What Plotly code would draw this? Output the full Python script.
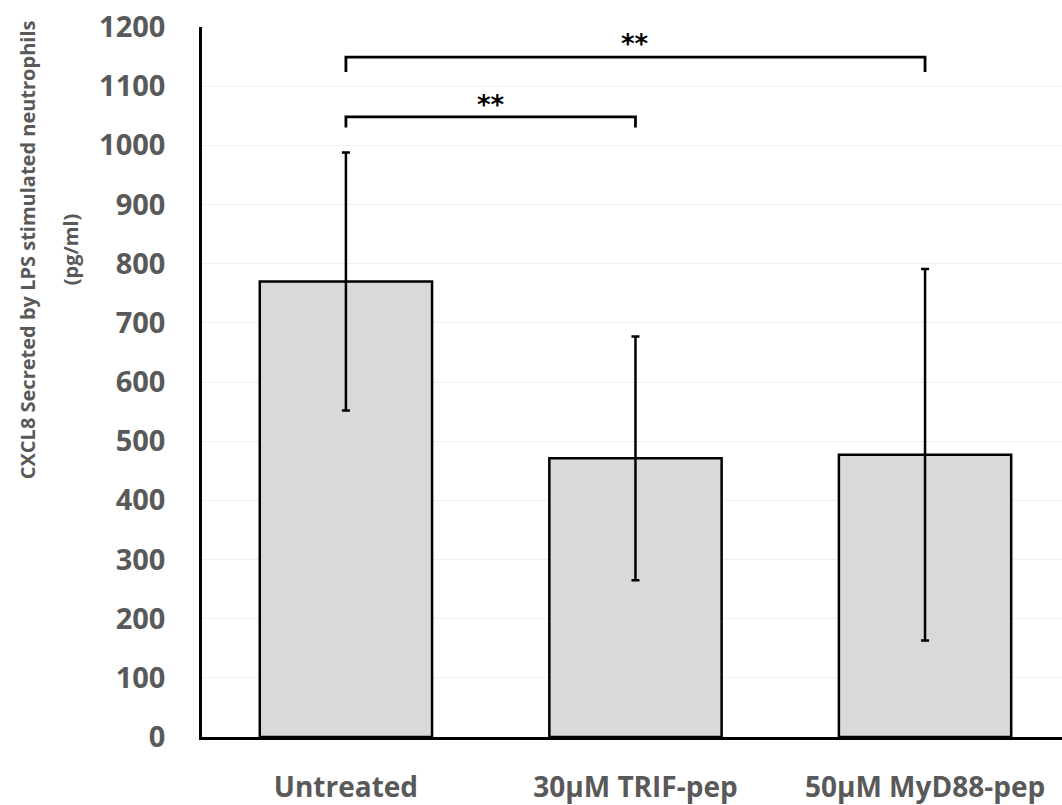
import plotly.graph_objects as go

categories = ["Untreated", "30µM TRIF-pep", "50µM MyD88-pep"]
means = [770, 471, 477]
errors = [218, 206, 314]
y_ticks = [0, 100, 200, 300, 400, 500, 600, 700, 800, 900, 1000, 1100, 1200]

# significance brackets: (start idx, end idx, bar height, tick bottom, label y)
brackets = [(0, 2, 1149, 1124, 1172), (0, 1, 1048, 1030, 1068)]

GRAY = "#595959"
FONT = "Open Sans"

xs = list(range(len(categories)))
fig = go.Figure()
fig.add_trace(go.Bar(
    x=xs, y=means, width=0.595,
    marker=dict(color="#D9D9D9", line=dict(color="black", width=2.5)),
    error_y=dict(type="data", array=errors, visible=True, color="black", thickness=2.5, width=4),
    showlegend=False,
))

for s, e, top, bot, ly in brackets:
    fig.add_trace(go.Scatter(
        x=[xs[s], xs[s], xs[e], xs[e]], y=[bot, top, top, bot],
        mode="lines", line=dict(color="black", width=2.8),
        showlegend=False, hoverinfo="skip",
    ))
    fig.add_annotation(x=(xs[s] + xs[e]) / 2, y=ly, text="**", showarrow=False,
                       font=dict(family="DejaVu Sans", size=26, color="black", weight="bold"),
                       xref="x", yref="y")

title_lines = ["CXCL8 Secreted by LPS stimulated neutrophils", "(pg/ml)"]
for txt, px in zip(title_lines, [-0.2035, -0.1535]):
    fig.add_annotation(
        x=px, y=0.687, xref="paper", yref="paper", xanchor="center", yanchor="middle",
        text=txt, textangle=-90, showarrow=False,
        font=dict(family=FONT, size=20, color=GRAY, weight="bold"),
    )

fig.update_layout(
    width=1062, height=805,
    margin=dict(l=202, r=0, t=27, b=66),
    plot_bgcolor="white", paper_bgcolor="white",
    xaxis=dict(
        range=[-0.497, 2.473], tickmode="array", tickvals=xs, ticktext=categories,
        showgrid=False, showline=True, linecolor="black", linewidth=2.5,
        ticks="", ticklabelstandoff=24,
        tickfont=dict(family=FONT, size=28, color=GRAY, weight="bold"),
        zeroline=False,
    ),
    yaxis=dict(
        range=[0, 1200], tickvals=y_ticks, showgrid=True, gridcolor="#F0F0F0", gridwidth=1,
        showline=True, linecolor="black", linewidth=2.5, ticks="",
        ticklabelstandoff=28, zeroline=False,
        tickfont=dict(family=FONT, size=29, color=GRAY, weight="bold"),
    ),
)

fig.write_html("out.html", config={"displayModeBar": False},
               post_script="document.body.style.margin='0px';")
